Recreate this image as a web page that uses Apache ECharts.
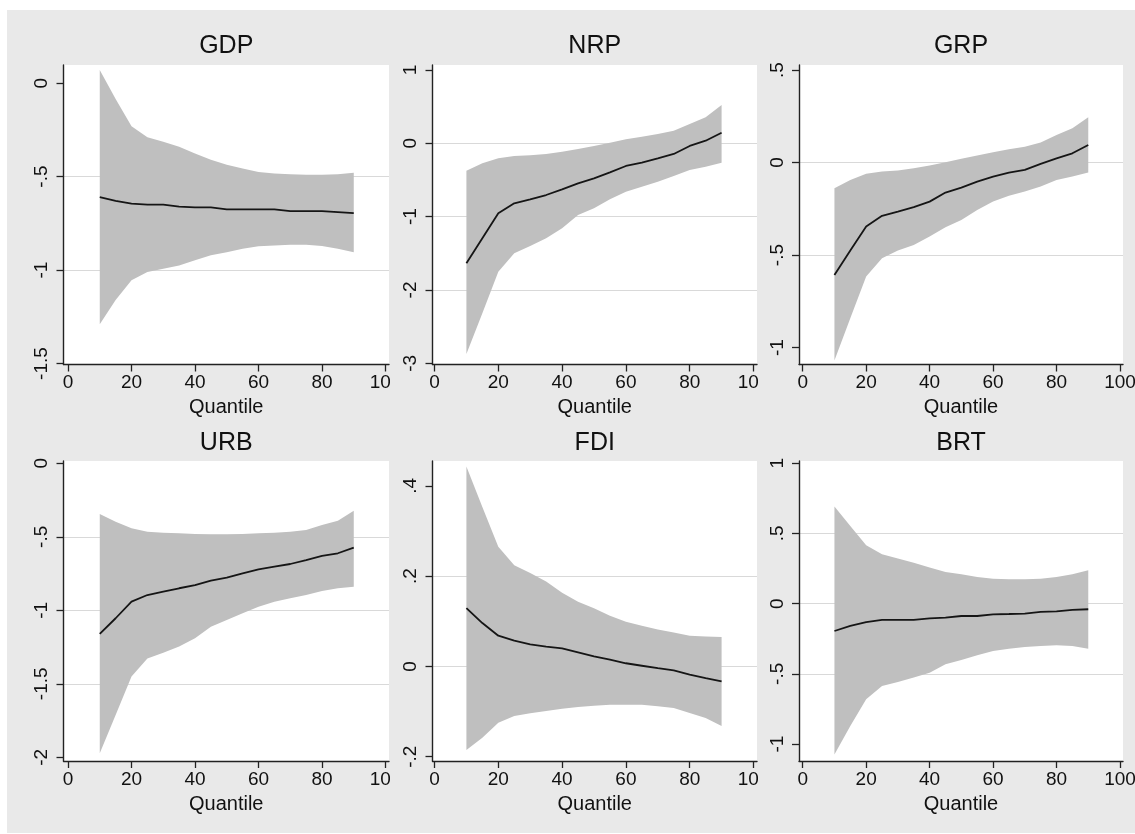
<!DOCTYPE html>
<html><head><meta charset="utf-8">
<script src="https://cdn.jsdelivr.net/npm/echarts@6/dist/echarts.min.js"></script>
<style>
html,body{margin:0;padding:0;background:#fff;width:1135px;height:834px;overflow:hidden;position:relative}
.p{position:absolute;background:#e9e9e9}
</style></head><body>
<div id="c0" class="p"></div><div id="c1" class="p"></div><div id="c2" class="p"></div>
<div id="c3" class="p"></div><div id="c4" class="p"></div><div id="c5" class="p"></div>
<script>
// ---- data ----
const quantiles = [10,15,20,25,30,35,40,45,50,55,60,65,70,75,80,85,90];
const xTicks = [0,20,40,60,80,100];

const gdpEst = [-0.61,-0.63,-0.645,-0.65,-0.65,-0.66,-0.665,-0.665,-0.675,-0.675,-0.675,-0.675,-0.685,-0.685,-0.685,-0.69,-0.695];
const gdpHi  = [0.07,-0.085,-0.23,-0.29,-0.314,-0.34,-0.377,-0.41,-0.436,-0.457,-0.475,-0.484,-0.487,-0.49,-0.49,-0.487,-0.48];
const gdpLo  = [-1.29,-1.16,-1.055,-1.01,-0.993,-0.975,-0.948,-0.921,-0.904,-0.886,-0.873,-0.868,-0.864,-0.864,-0.871,-0.886,-0.904];
const gdpTicks = [0,-0.5,-1,-1.5];

const nrpEst = [-1.636,-1.295,-0.955,-0.818,-0.764,-0.705,-0.627,-0.545,-0.477,-0.395,-0.309,-0.264,-0.205,-0.145,-0.036,0.036,0.145];
const nrpHi  = [-0.373,-0.273,-0.205,-0.173,-0.164,-0.145,-0.114,-0.077,-0.036,0.009,0.055,0.091,0.127,0.173,0.264,0.355,0.523];
const nrpLo  = [-2.873,-2.318,-1.75,-1.5,-1.4,-1.295,-1.159,-0.977,-0.886,-0.764,-0.659,-0.591,-0.523,-0.445,-0.364,-0.318,-0.264];
const nrpTicks = [1,0,-1,-2,-3];

const grpEst = [-0.607,-0.475,-0.346,-0.288,-0.265,-0.241,-0.211,-0.162,-0.135,-0.103,-0.076,-0.054,-0.040,-0.007,0.023,0.05,0.095];
const grpHi  = [-0.139,-0.094,-0.061,-0.049,-0.043,-0.031,-0.016,0.002,0.02,0.038,0.056,0.072,0.086,0.108,0.149,0.185,0.245];
const grpLo  = [-1.07,-0.841,-0.616,-0.517,-0.475,-0.445,-0.4,-0.349,-0.31,-0.256,-0.211,-0.18,-0.157,-0.13,-0.094,-0.076,-0.054];
const grpTicks = [0.5,0,-0.5,-1];

const urbEst = [-1.161,-1.054,-0.941,-0.896,-0.873,-0.85,-0.828,-0.798,-0.778,-0.748,-0.721,-0.703,-0.685,-0.658,-0.63,-0.612,-0.574];
const urbHi  = [-0.345,-0.397,-0.442,-0.465,-0.472,-0.476,-0.481,-0.483,-0.483,-0.481,-0.476,-0.472,-0.465,-0.454,-0.42,-0.39,-0.322];
const urbLo  = [-1.973,-1.712,-1.451,-1.327,-1.288,-1.247,-1.19,-1.111,-1.066,-1.02,-0.975,-0.941,-0.918,-0.896,-0.868,-0.85,-0.839];
const urbTicks = [0,-0.5,-1,-1.5,-2];

const fdiEst = [0.129,0.096,0.068,0.057,0.049,0.044,0.040,0.031,0.022,0.015,0.007,0.0015,-0.004,-0.009,-0.018,-0.026,-0.033];
const fdiHi  = [0.443,0.353,0.265,0.224,0.207,0.188,0.163,0.143,0.129,0.112,0.099,0.09,0.082,0.075,0.068,0.066,0.065];
const fdiLo  = [-0.185,-0.158,-0.125,-0.110,-0.104,-0.099,-0.094,-0.09,-0.087,-0.085,-0.085,-0.085,-0.088,-0.092,-0.103,-0.114,-0.132];
const fdiTicks = [0.4,0.2,0,-0.2];

const brtEst = [-0.195,-0.159,-0.131,-0.116,-0.116,-0.116,-0.105,-0.1,-0.088,-0.088,-0.076,-0.074,-0.071,-0.059,-0.055,-0.045,-0.040];
const brtHi  = [0.691,0.553,0.416,0.352,0.321,0.292,0.257,0.226,0.209,0.19,0.178,0.173,0.173,0.178,0.19,0.209,0.238];
const brtLo  = [-1.074,-0.872,-0.682,-0.587,-0.558,-0.527,-0.492,-0.432,-0.401,-0.368,-0.337,-0.321,-0.309,-0.302,-0.297,-0.302,-0.321];
const brtTicks = [1,0.5,0,-0.5,-1];

// ---- layout (page pixels) ----
const cols = [[7,390],[390,758],[758,1135]];
const rows = [[10,420],[420,833]];
const colPlot = [ {x0:63.5,x1:389,xmin:-1.42,xmax:101.1},
                  {x0:432.5,x1:757,xmin:-0.63,xmax:101.1},
                  {x0:799,x1:1123,xmin:-1.17,xmax:100.95} ];
const rowPlot = [ {y0:65,y1:364.5,titleY:44}, {y0:461,y1:761,titleY:441} ];

const panels = [
  {title:'GDP', est:gdpEst, lo:gdpLo, hi:gdpHi, ticks:gdpTicks, ymin:-1.505, ymax:0.097, r:0, c:0},
  {title:'NRP', est:nrpEst, lo:nrpLo, hi:nrpHi, ticks:nrpTicks, ymin:-3.016, ymax:1.068, r:0, c:1},
  {title:'GRP', est:grpEst, lo:grpLo, hi:grpHi, ticks:grpTicks, ymin:-1.091, ymax:0.527, r:0, c:2},
  {title:'URB', est:urbEst, lo:urbLo, hi:urbHi, ticks:urbTicks, ymin:-2.025, ymax:0.0156, r:1, c:0},
  {title:'FDI', est:fdiEst, lo:fdiLo, hi:fdiHi, ticks:fdiTicks, ymin:-0.2095, ymax:0.455, r:1, c:1},
  {title:'BRT', est:brtEst, lo:brtLo, hi:brtHi, ticks:brtTicks, ymin:-1.121, ymax:1.016, r:1, c:2}
];

const FONT = '"Liberation Sans", Arial, Helvetica, sans-serif';
const INK = '#151515';
const stataFmt = v => {
  let s = String(+(+v).toFixed(4));
  if (s.startsWith('0.')) s = s.slice(1);
  else if (s.startsWith('-0.')) s = '-' + s.slice(2);
  return s;
};

panels.forEach((p, i) => {
  const col = cols[p.c], row = rows[p.r];
  const el = document.getElementById('c' + i);
  el.style.left = col[0] + 'px'; el.style.top = row[0] + 'px';
  el.style.width = (col[1] - col[0]) + 'px'; el.style.height = (row[1] - row[0]) + 'px';
  const cp = colPlot[p.c], rp = rowPlot[p.r];
  const gl = cp.x0 - col[0], gt = rp.y0 - row[0];
  const gw = cp.x1 - cp.x0, gh = rp.y1 - rp.y0;
  const chart = echarts.init(el, null, {renderer: 'canvas'});
  const axisLine = {show: true, onZero: false, lineStyle: {color: '#222', width: 1.4}};
  chart.setOption({
    animation: false,
    backgroundColor: '#e9e9e9',
    title: {
      text: p.title, left: gl + gw / 2, top: rp.titleY - row[0] - 10.5, textAlign: 'center', padding: 0,
      textStyle: {fontFamily: FONT, fontSize: 25, fontWeight: 'normal', color: '#111'}
    },
    grid: {left: gl, top: gt, width: gw, height: gh, show: true, backgroundColor: '#fff', borderWidth: 0,
           containLabel: false, outerBoundsMode: 'none'},
    xAxis: {
      type: 'value', min: cp.xmin, max: cp.xmax,
      axisLine: axisLine,
      axisTick: {show: true, length: 7, customValues: xTicks, lineStyle: {color: '#222', width: 1.3}},
      axisLabel: {customValues: xTicks, margin: 9, fontSize: 19, color: '#111', fontFamily: FONT},
      splitLine: {show: false},
      name: 'Quantile', nameLocation: 'middle', nameGap: 33,
      nameTextStyle: {fontSize: 20, color: '#111', fontFamily: FONT}
    },
    yAxis: {
      type: 'value', min: p.ymin, max: p.ymax,
      axisLine: axisLine,
      axisTick: {show: true, length: 7, customValues: p.ticks, lineStyle: {color: '#222', width: 1.3}},
      axisLabel: {customValues: p.ticks, rotate: 90, margin: 12, fontSize: 19, color: '#111', fontFamily: FONT, formatter: stataFmt},
      splitLine: {show: true, showMinLine: false, showMaxLine: false, lineStyle: {color: '#d9d9d9', width: 1}}
    },
    series: [
      {
        type: 'custom', silent: true, z: 1,
        data: quantiles.map((q, k) => [q, p.lo[k], p.hi[k]]),
        encode: {x: 0, y: [1, 2]},
        renderItem: (params, api) => {
          if (params.dataIndex !== 0) return null;
          const pts = [];
          for (let k = 0; k < quantiles.length; k++) pts.push(api.coord([quantiles[k], p.hi[k]]));
          for (let k = quantiles.length - 1; k >= 0; k--) pts.push(api.coord([quantiles[k], p.lo[k]]));
          return {type: 'polygon', shape: {points: pts}, style: {fill: '#bfbfbf'}};
        }
      },
      {
        type: 'line', z: 3, symbol: 'none', silent: true,
        data: quantiles.map((q, k) => [q, p.est[k]]),
        lineStyle: {color: INK, width: 1.8}
      }
    ]
  });
});
</script>
</body></html>
